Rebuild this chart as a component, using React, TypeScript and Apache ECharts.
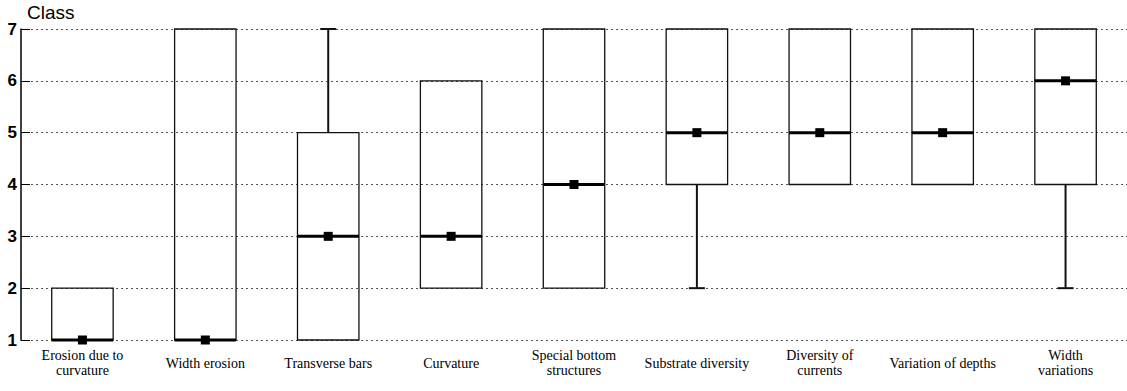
import React, { useEffect, useRef } from "react";
import * as echarts from "echarts";

const categories = [
  "Erosion due to\ncurvature",
  "Width erosion",
  "Transverse bars",
  "Curvature",
  "Special bottom\nstructures",
  "Substrate diversity",
  "Diversity of\ncurrents",
  "Variation of depths",
  "Width\nvariations",
];
const mins = [1, 1, 1, 2, 2, 2, 4, 4, 2];
const q1s = [1, 1, 1, 2, 2, 4, 4, 4, 4];
const medians = [1, 1, 3, 3, 4, 5, 5, 5, 6];
const q3s = [2, 7, 5, 6, 7, 7, 7, 7, 7];
const maxs = [2, 7, 7, 6, 7, 7, 7, 7, 7];
const yTicks = [1, 2, 3, 4, 5, 6, 7];

export default function App() {
  const ref = useRef<HTMLDivElement>(null);
  useEffect(() => {
    document.body.style.margin = "0";
    const chart = echarts.init(ref.current!, null, { renderer: "svg" });
    const data = categories.map((_, i) => [i, mins[i], q1s[i], medians[i], q3s[i], maxs[i]]);
    chart.setOption({
      animation: false,
      backgroundColor: "#fff",
      grid: { left: 21, right: 0, top: 29, bottom: 51 },
      xAxis: {
        type: "category",
        data: categories,
        boundaryGap: true,
        axisLine: { show: false },
        axisTick: { show: false },
        axisLabel: {
          interval: 0,
          color: "#000",
          fontFamily: "Liberation Serif",
          fontSize: 14,
          lineHeight: 15,
          verticalAlign: "middle",
          margin: 23,
        },
      },
      yAxis: {
        type: "value",
        min: yTicks[0],
        max: yTicks[yTicks.length - 1],
        interval: 1,
        name: "Class",
        nameLocation: "end",
        nameGap: 7,
        nameTextStyle: {
          color: "#000",
          fontFamily: "Liberation Sans",
          fontSize: 19,
          fontWeight: 500,
          align: "left",
          padding: [0, 0, 0, 6],
        },
        axisLine: { show: true, lineStyle: { color: "#000", width: 1.5 } },
        axisTick: { show: true, inside: true, length: 9, lineStyle: { color: "#000", width: 1 } },
        axisLabel: {
          color: "#000",
          fontFamily: "Liberation Sans",
          fontSize: 17,
          fontWeight: "bold",
          margin: 4,
        },
        splitLine: {
          show: true,
          lineStyle: { color: "#555", width: 1, type: [2, 3] },
        },
      },
      series: [
        {
          type: "custom",
          data,
          encode: { x: 0, y: [1, 2, 3, 4, 5] },
          renderItem: (params: any, api: any) => {
            const x = api.value(0);
            const vMin = api.value(1);
            const vQ1 = api.value(2);
            const vMed = api.value(3);
            const vQ3 = api.value(4);
            const vMax = api.value(5);
            const band = api.size([1, 0])[0];
            const half = band * 0.25;
            const capHalf = 8;
            const pMin = api.coord([x, vMin]);
            const pQ1 = api.coord([x, vQ1]);
            const pMed = api.coord([x, vMed]);
            const pQ3 = api.coord([x, vQ3]);
            const pMax = api.coord([x, vMax]);
            const cx = pMed[0];
            const children: any[] = [];
            const lineStyle = { stroke: "#111", lineWidth: 2 };
            if (vMax > vQ3) {
              children.push({ type: "line", shape: { x1: cx, y1: pQ3[1], x2: cx, y2: pMax[1] }, style: lineStyle });
              children.push({ type: "line", shape: { x1: cx - capHalf, y1: pMax[1], x2: cx + capHalf, y2: pMax[1] }, style: lineStyle });
            }
            if (vMin < vQ1) {
              children.push({ type: "line", shape: { x1: cx, y1: pQ1[1], x2: cx, y2: pMin[1] }, style: lineStyle });
              children.push({ type: "line", shape: { x1: cx - capHalf, y1: pMin[1], x2: cx + capHalf, y2: pMin[1] }, style: lineStyle });
            }
            children.push({
              type: "rect",
              shape: { x: cx - half, y: pQ3[1], width: half * 2, height: pQ1[1] - pQ3[1] },
              style: { fill: "none", stroke: "#111", lineWidth: 1.3 },
            });
            children.push({
              type: "line",
              shape: { x1: cx - half, y1: pMed[1], x2: cx + half, y2: pMed[1] },
              style: { stroke: "#000", lineWidth: 3 },
            });
            children.push({
              type: "rect",
              shape: { x: cx - 4.5, y: pMed[1] - 4.5, width: 9, height: 9 },
              style: { fill: "#000" },
            });
            return { type: "group", children };
          },
        },
      ],
    });
    return () => chart.dispose();
  }, []);
  return <div ref={ref} style={{ width: 1127, height: 391 }} />;
}
